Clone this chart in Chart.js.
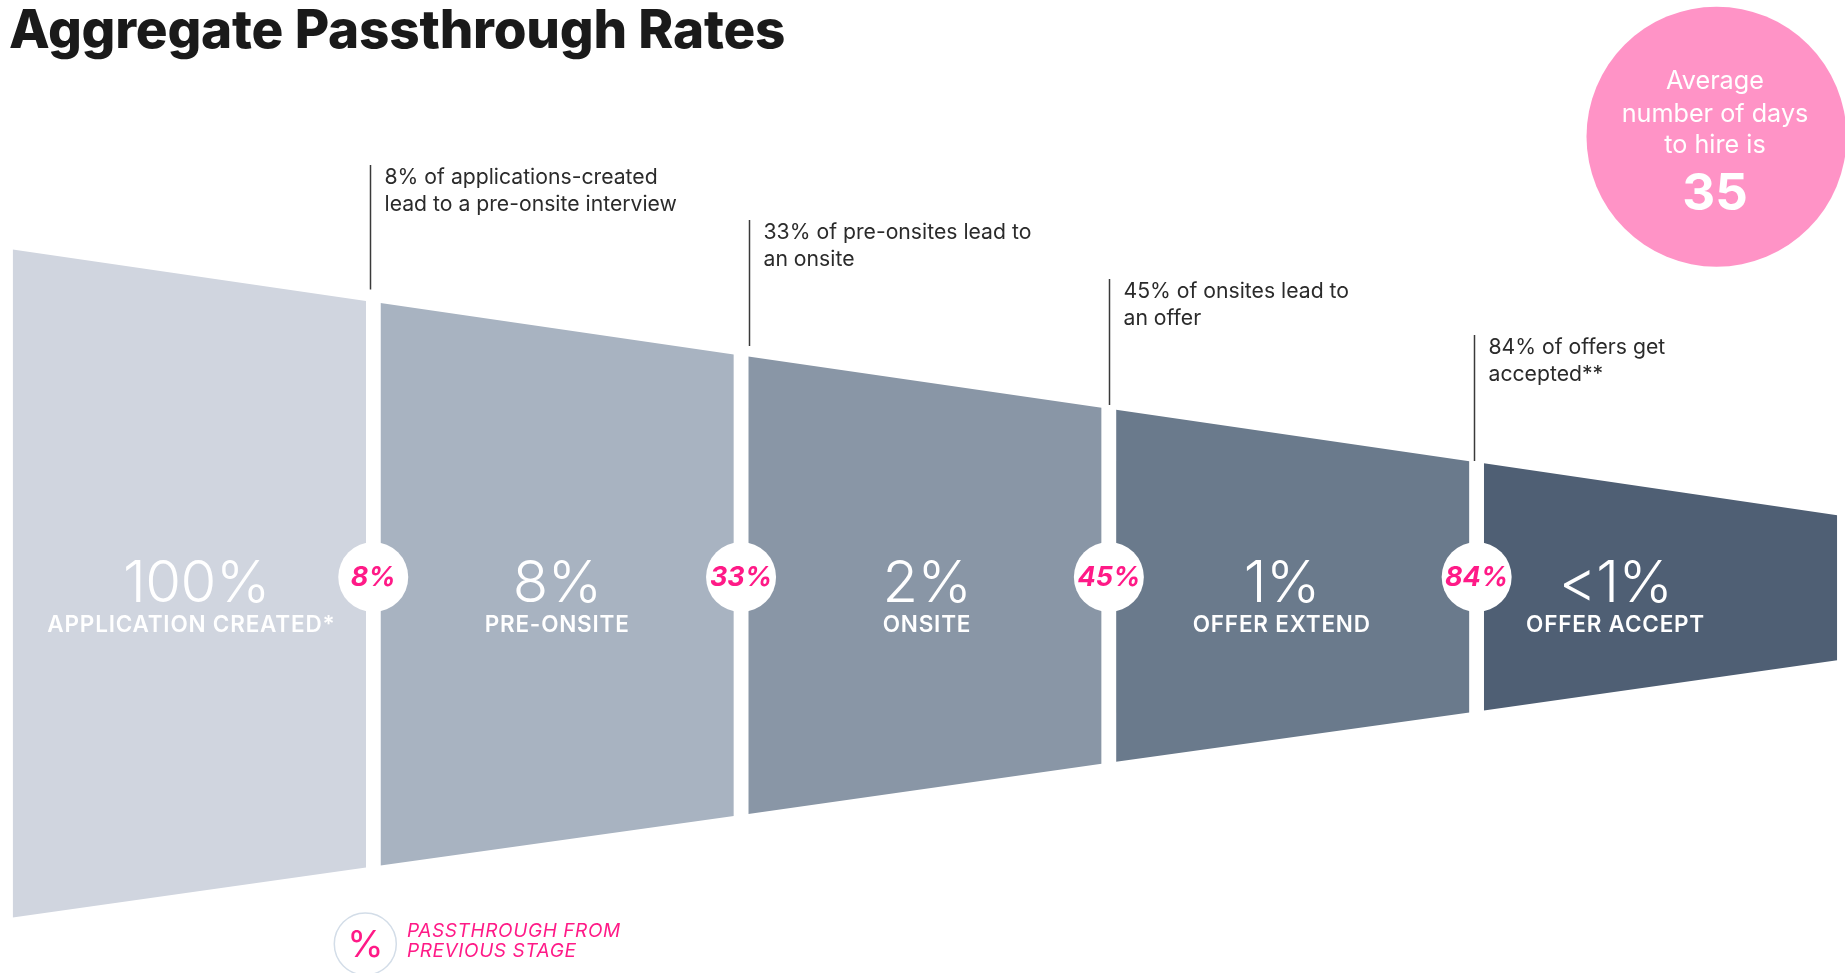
<!DOCTYPE html>
<html>
<head>
<meta charset="utf-8">
<title>Aggregate Passthrough Rates</title>
<script src="https://cdn.jsdelivr.net/npm/chart.js@4.4.1/dist/chart.umd.min.js"></script>
<style>
  html, body { margin: 0; padding: 0; background: #ffffff; overflow: hidden; }
  canvas { display: block; }
</style>
</head>
<body>
<canvas id="funnel" width="1845" height="973"></canvas>
<script>
// ---- data -------------------------------------------------------------
const stageNames = ['APPLICATION CREATED*', 'PRE-ONSITE', 'ONSITE', 'OFFER EXTEND', 'OFFER ACCEPT'];
const stageShares = ['100%', '8%', '2%', '1%', '<1%'];
const passthroughRates = [8, 33, 45, 84];
const noteTexts = [
  ['% of applications-created', 'lead to a pre-onsite interview'],
  ['% of pre-onsites lead to', 'an onsite'],
  ['% of onsites lead to', 'an offer'],
  ['% of offers get', 'accepted**']
];
// funnel outline, in percent of the opening height, measured from the midline
const edgeTopStart    = [50, 42.0, 34.0, 26.0, 18.0];
const edgeTopEnd      = [42.3, 34.3, 26.3, 18.3, 10.2];
const edgeBottomStart = [-50, -42.2, -34.5, -26.7, -19.0];
const edgeBottomEnd   = [-42.5, -34.8, -27.0, -19.3, -11.5];
const daysToHire = 35;

// ---- look ---------------------------------------------------------------
const stageColors = ['#d0d5df', '#a8b3c1', '#8996a6', '#6a7a8c', '#4f5f74'];
const PINK = '#ff1a87';
const FONT = 'Inter, "Noto Sans", sans-serif';
const SEG_SPAN = 0.9606;          // share of a stage slot covered by its block
const CIRCLE_ROW = 0.97;          // vertical position of the rate badges
const shareShift = [7, 0, 2, -11, -45];
const nameShift = [2, 0, 2, -11, -45];
const noteTop = [165, 220, 279, 335];
const noteBottom = [289.5, 346, 405, 461];
const noteShift = [-3, 8, 0, -3];

// ---- datasets -----------------------------------------------------------
const datasets = [];
stageNames.forEach((name, i) => {
  const topIndex = datasets.length;
  datasets.push({
    label: name,
    data: [{ x: i, y: edgeTopStart[i] }, { x: i + SEG_SPAN, y: edgeTopEnd[i] }],
    borderColor: 'transparent',
    borderWidth: 0,
    backgroundColor: stageColors[i],
    pointRadius: 0,
    fill: topIndex + 1,
    tension: 0
  });
  datasets.push({
    label: name + ' (lower edge)',
    data: [{ x: i, y: edgeBottomStart[i] }, { x: i + SEG_SPAN, y: edgeBottomEnd[i] }],
    borderColor: 'transparent',
    borderWidth: 0,
    backgroundColor: stageColors[i],
    pointRadius: 0,
    fill: false,
    tension: 0
  });
});
const gapCenter = i => i + (1 + SEG_SPAN) / 2;
datasets.push({
  label: 'Passthrough',
  data: passthroughRates.map((r, i) => ({ x: gapCenter(i), y: CIRCLE_ROW, rate: r })),
  showLine: false,
  pointRadius: 35,
  pointHoverRadius: 35,
  pointBackgroundColor: '#ffffff',
  pointBorderColor: 'transparent',
  pointBorderWidth: 0,
  order: -1
});

// ---- drawing of texts and callouts --------------------------------------
function text(ctx, str, x, y, font, color, align, spacing) {
  ctx.font = font;
  ctx.fillStyle = color;
  ctx.textAlign = align || 'left';
  ctx.textBaseline = 'alphabetic';
  ctx.letterSpacing = spacing || '0px';
  ctx.fillText(str, x, y);
  ctx.letterSpacing = '0px';
}

const funnelText = {
  id: 'funnelText',
  afterDatasetsDraw(chart) {
    const { ctx, scales: { x, y } } = chart;
    ctx.save();

    // rate badges on the gaps
    const badgeMeta = chart.getDatasetMeta(datasets.length - 1);
    badgeMeta.data.forEach((pt, i) => {
      text(ctx, passthroughRates[i] + '%', pt.x, pt.y + 9,
        'italic 700 27px ' + FONT, PINK, 'center');
    });

    // stage shares and names
    const rowY = y.getPixelForValue(CIRCLE_ROW);
    stageNames.forEach((name, i) => {
      const cx = x.getPixelForValue(i + SEG_SPAN / 2);
      text(ctx, stageShares[i], cx + shareShift[i], rowY + 24.5, '300 58px ' + FONT, '#ffffff', 'center', '-0.5px');
      text(ctx, name, cx + nameShift[i], rowY + 54.5, '600 22.5px ' + FONT, '#ffffff', 'center', '0.8px');
    });

    // callouts above each gap
    passthroughRates.forEach((r, i) => {
      const lx = Math.round(x.getPixelForValue(gapCenter(i)) + noteShift[i]) + 0.5;
      ctx.strokeStyle = '#3a3a3a';
      ctx.lineWidth = 1.5;
      ctx.beginPath();
      ctx.moveTo(lx, noteTop[i]);
      ctx.lineTo(lx, noteBottom[i]);
      ctx.stroke();
      const [first, second] = noteTexts[i];
      text(ctx, r + first, lx + 14, noteTop[i] + 18.5, '400 21.2px ' + FONT, '#2b2b2b');
      text(ctx, second, lx + 14, noteTop[i] + 45.5, '400 21.2px ' + FONT, '#2b2b2b');
    });
    ctx.restore();
  },
  afterDraw(chart) {
    const { ctx } = chart;
    ctx.save();
    // title
    text(ctx, 'Aggregate Passthrough Rates', 9, 48, '800 53px ' + FONT, '#1a1a1a', 'left', '-0.2px');

    // days-to-hire badge
    ctx.fillStyle = '#ff93c6';
    ctx.beginPath();
    ctx.arc(1716.5, 136.7, 130, 0, Math.PI * 2);
    ctx.fill();
    text(ctx, 'Average', 1715, 89.3, '400 25.2px ' + FONT, '#ffffff', 'center');
    text(ctx, 'number of days', 1715, 121.5, '400 25.2px ' + FONT, '#ffffff', 'center');
    text(ctx, 'to hire is', 1715, 153.3, '400 25.2px ' + FONT, '#ffffff', 'center');
    text(ctx, String(daysToHire), 1715, 210, '700 51px ' + FONT, '#ffffff', 'center');

    // key for the rate badges
    ctx.strokeStyle = '#d3dde8';
    ctx.lineWidth = 1.5;
    ctx.beginPath();
    ctx.arc(365.3, 944, 31, 0, Math.PI * 2);
    ctx.stroke();
    text(ctx, '%', 365.3, 956.5, '400 37px ' + FONT, PINK, 'center');
    text(ctx, 'PASSTHROUGH FROM', 407, 936.7, 'italic 400 19px ' + FONT, PINK, 'left', '0.6px');
    text(ctx, 'PREVIOUS STAGE', 407, 957.3, 'italic 400 19px ' + FONT, PINK, 'left', '0.6px');
    ctx.restore();
  }
};

// ---- chart --------------------------------------------------------------
const PX_PER_SLOT = 367.8, LEFT_PX = 12.7, MID_PX = 583.5, PX_PER_UNIT = 6.68;
new Chart(document.getElementById('funnel'), {
  type: 'line',
  data: { datasets },
  options: {
    responsive: false,
    devicePixelRatio: 1,
    animation: false,
    events: [],
    layout: { padding: 0, autoPadding: false },
    plugins: {
      legend: { display: false },
      tooltip: { enabled: false },
      title: { display: false },
      filler: { propagate: false }
    },
    scales: {
      x: {
        type: 'linear',
        display: false,
        min: -LEFT_PX / PX_PER_SLOT,
        max: (1845 - LEFT_PX) / PX_PER_SLOT
      },
      y: {
        type: 'linear',
        display: false,
        min: (MID_PX - 973) / PX_PER_UNIT,
        max: MID_PX / PX_PER_UNIT
      }
    }
  },
  plugins: [funnelText]
});
</script>
</body>
</html>
